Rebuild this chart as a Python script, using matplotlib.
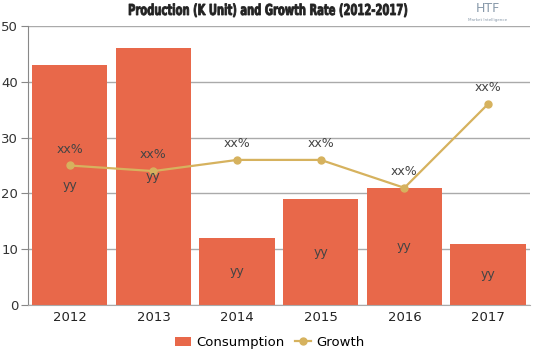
import matplotlib.pyplot as plt
import numpy as np
from matplotlib.textpath import TextPath
from matplotlib.patches import PathPatch
from matplotlib.font_manager import FontProperties
from matplotlib import transforms

# chart data
years = ['2012', '2013', '2014', '2015', '2016', '2017']
consumption = [43, 46, 12, 19, 21, 11]
growth = [25, 24, 26, 26, 21, 36]
bar_labels = ['yy'] * 6
growth_labels = ['xx%'] * 6
title = 'Production (K Unit) and Growth Rate (2012-2017)'

bar_color = '#E8684A'
line_color = '#D6B25E'

fig = plt.figure(figsize=(5.39, 3.59), dpi=100)
ax = fig.add_axes([0.052, 0.150, 0.931, 0.778])

x = np.arange(len(years))
bars = ax.bar(x, consumption, width=0.9, color=bar_color, zorder=2, label='Consumption')
line, = ax.plot(x, growth, color=line_color, lw=1.6, marker='o', ms=5, zorder=3, label='Growth')

for i in range(len(years)):
    ax.text(x[i], consumption[i] / 2, bar_labels[i], ha='center', va='center',
            fontsize=9, color='#444444', zorder=4)
    ax.annotate(growth_labels[i], (x[i], growth[i]), xytext=(0, 7),
                textcoords='offset points', ha='center', va='bottom',
                fontsize=9, color='#444444', zorder=4)

ax.set_xlim(-0.5, len(years) - 0.5)
ax.set_ylim(0, 50)
ax.set_yticks(range(0, 51, 10))
ax.set_xticks(x)
ax.set_xticklabels(years)
ax.yaxis.grid(True, color='#AAAAAA', lw=1, zorder=0)
ax.tick_params(axis='y', length=5, color='#888888', labelsize=9.5, labelcolor='#333333', pad=2)
ax.tick_params(axis='x', length=0, labelsize=9.5, labelcolor='#222222', pad=4)
for s in ['top', 'right']:
    ax.spines[s].set_visible(False)
ax.spines['left'].set_color('#888888')
ax.spines['bottom'].set_color('#AAAAAA')

# condensed bold title: squeeze a text path sideways
tp = TextPath((0, 0), title, size=14, prop=FontProperties(family='DejaVu Sans', weight='bold'))
bb = tp.get_extents()
sx = 278 / bb.width
sy = 1.08
tr = (transforms.Affine2D().translate(-bb.x0 - bb.width / 2, 0).scale(sx, sy)
      .translate(268, 359 - 15))
fig.patches.append(PathPatch(tp, transform=tr, color='#222222', lw=0.6, figure=fig))

fig.text(0.905, 0.975, 'HTF', ha='center', va='center', fontsize=9, color='#8899AA')
fig.text(0.905, 0.945, 'Market Intelligence', ha='center', va='center', fontsize=3, color='#8899AA')

fig.legend([bars, line], ['Consumption', 'Growth'], loc='lower center',
           bbox_to_anchor=(0.5, -0.005), ncol=2, frameon=False,
           fontsize=9.5, handlelength=1.2, handletextpad=0.4, columnspacing=0.8)

fig.savefig('out.png', dpi=100)
